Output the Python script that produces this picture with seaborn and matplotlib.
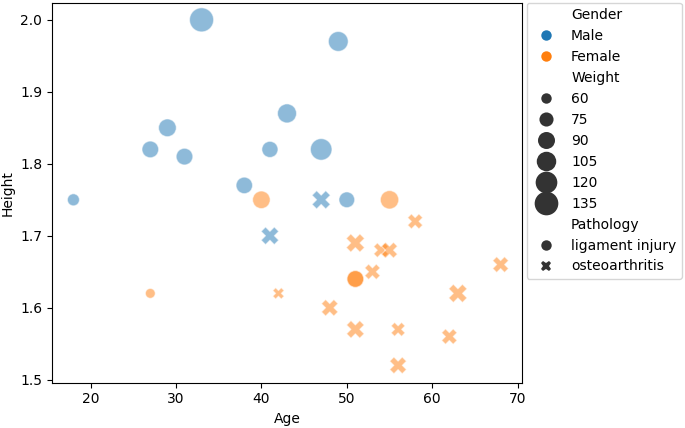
import pandas as pd
import numpy as np
import matplotlib
matplotlib.use('Agg')
import matplotlib.pyplot as plt
import seaborn as sns

# Dữ liệu
age = [18, 27, 29, 31, 33, 38, 41, 43, 47, 49, 50,
       41, 47,
       27, 40, 51, 51, 55,
       42, 48, 51, 51, 53, 54, 55, 56, 56, 58, 62, 63, 68]
height = [1.75, 1.82, 1.85, 1.81, 2.00, 1.77, 1.82, 1.87, 1.82, 1.97, 1.75,
          1.70, 1.75,
          1.62, 1.75, 1.64, 1.64, 1.75,
          1.62, 1.60, 1.69, 1.57, 1.65, 1.68, 1.68, 1.57, 1.52, 1.72, 1.56, 1.62, 1.66]
weight = [66, 88, 94, 88, 138, 87, 85, 102, 119, 107, 83,
          93, 97,
          58, 93, 90, 88, 98,
          63, 87, 97, 93, 81, 77, 83, 74, 88, 79, 81, 97, 83]
gender = ['Male'] * 13 + ['Female'] * 18
pathology = (['ligament injury'] * 11 + ['osteoarthritis'] * 2 +
             ['ligament injury'] * 5 + ['osteoarthritis'] * 13)

df = pd.DataFrame({'Age': age, 'Height': height, 'Weight': weight,
                   'Gender': gender, 'Pathology': pathology})

fig = plt.figure(figsize=(6.85, 4.28), dpi=100)
ax = fig.add_axes([0.076, 0.106, 0.686, 0.888])

sns.scatterplot(data=df, x='Age', y='Height', hue='Gender', size='Weight',
                style='Pathology', hue_order=['Male', 'Female'],
                style_order=['ligament injury', 'osteoarthritis'],
                sizes=(50, 300), alpha=0.5, ax=ax)

ax.set_yticks([1.5, 1.6, 1.7, 1.8, 1.9, 2.0])

# Legend: marker đậm, không trong suốt
handles, labels = ax.get_legend_handles_labels()
for h, lab in zip(handles, labels):
    h.set_alpha(1)
    if hasattr(h, 'set_markeredgewidth'):
        h.set_markeredgewidth(0)
        if lab in ['Male', 'Female', 'ligament injury', 'osteoarthritis']:
            h.set_markersize(7.5)
ax.legend(handles, labels, bbox_to_anchor=(1.01, 1), loc='upper left',
          borderaxespad=0)

plt.savefig('out.png', dpi=100)
plt.close()
